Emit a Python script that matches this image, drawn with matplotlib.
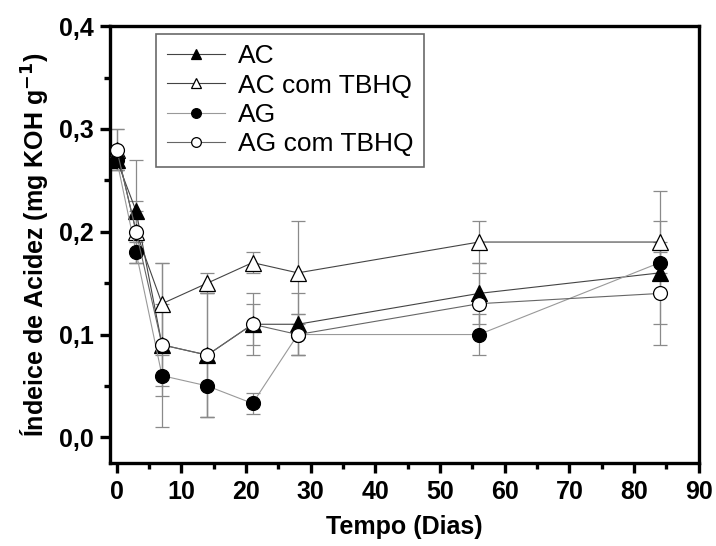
import matplotlib
matplotlib.use("Agg")
import matplotlib.pyplot as plt
from matplotlib.ticker import MultipleLocator, FuncFormatter

plt.rcParams['font.family'] = ['Liberation Sans', 'DejaVu Sans']
plt.rcParams['mathtext.default'] = 'regular'

days = [0, 3, 7, 14, 21, 28, 56, 84]
ac = [0.27, 0.22, 0.09, 0.08, 0.11, 0.11, 0.14, 0.16]
ac_tbhq = [0.28, 0.20, 0.13, 0.15, 0.17, 0.16, 0.19, 0.19]
ag = [0.27, 0.18, 0.06, 0.05, 0.033, 0.10, 0.10, 0.17]
ag_tbhq = [0.28, 0.20, 0.09, 0.08, 0.11, 0.10, 0.13, 0.14]

ac_err = [0.01, 0.05, 0.08, 0.06, 0.02, 0.03, 0.03, 0.05]
ac_tbhq_err = [0.02, 0.02, 0.04, 0.01, 0.01, 0.05, 0.02, 0.05]
ag_err = [0.01, 0.01, 0.02, 0.03, 0.01, 0.02, 0.02, 0.01]
ag_tbhq_err = [0.02, 0.03, 0.04, 0.06, 0.03, 0.02, 0.03, 0.05]

labels = ['AC', 'AC com TBHQ', 'AG', 'AG com TBHQ']

fig = plt.figure(figsize=(7.16, 5.46), dpi=100)
ax = fig.add_axes([0.154, 0.152, 0.822, 0.800])

series = [
    (ac, ac_err, '^', 'black', 11, '#444444'),
    (ac_tbhq, ac_tbhq_err, '^', 'white', 11, '#444444'),
    (ag, ag_err, 'o', 'black', 10, '#999999'),
    (ag_tbhq, ag_tbhq_err, 'o', 'white', 10, '#666666'),
]
for (vals, err, mk, fc, ms, lc), lab in zip(series, labels):
    ax.errorbar(days, vals, yerr=err, fmt='none', ecolor='#8a8a8a',
                elinewidth=0.9, capsize=5, capthick=0.9, zorder=2)
    ax.plot(days, vals, color=lc, lw=0.8, marker=mk, ms=ms,
            mfc=fc, mec='black', mew=0.9, label=lab, zorder=3)

ax.set_xlim(-1, 90)
ax.set_ylim(-0.025, 0.4)
ax.xaxis.set_major_locator(MultipleLocator(10))
ax.xaxis.set_minor_locator(MultipleLocator(5))
ax.yaxis.set_major_locator(MultipleLocator(0.1))
ax.yaxis.set_minor_locator(MultipleLocator(0.05))
ax.yaxis.set_major_formatter(FuncFormatter(lambda v, p: f"{v:.1f}".replace('.', ',')))

for s in ax.spines.values():
    s.set_linewidth(2.4)
ax.tick_params(which='major', direction='out', length=7, width=2.4,
               labelsize=18, pad=5)
ax.tick_params(which='minor', direction='out', length=4, width=2.4)
for t in ax.get_xticklabels() + ax.get_yticklabels():
    t.set_fontweight('bold')

ax.set_xlabel('Tempo (Dias)', fontsize=18, fontweight='bold', labelpad=8)
ax.set_ylabel(r'Índeice de Acidez (mg KOH g$^{\mathbf{-1}}$)', fontsize=18,
              fontweight='bold', labelpad=6)

leg = ax.legend(loc='upper left', bbox_to_anchor=(0.069, 0.995), fontsize=19,
                frameon=True, fancybox=False, edgecolor='#444444',
                handlelength=2.2, borderpad=0.4, labelspacing=0.2,
                handletextpad=0.5, markerscale=0.7, borderaxespad=0.2)
leg.get_frame().set_linewidth(1.2)

fig.savefig('out.png', dpi=100)
